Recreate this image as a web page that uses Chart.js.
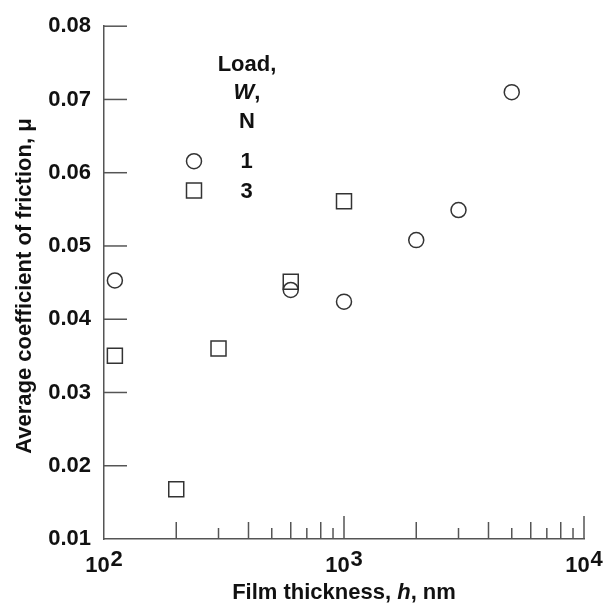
<!DOCTYPE html>
<html>
<head>
<meta charset="utf-8">
<script src="https://cdn.jsdelivr.net/npm/chart.js@4/dist/chart.umd.min.js"></script>
<style>
  html, body { margin: 0; padding: 0; background: #fff; }
  #wrap { width: 603px; height: 607px; }
</style>
</head>
<body>
<div id="wrap"><canvas id="chart" width="603" height="607"></canvas></div>
<script>
// Data
const loadLabels = ['1', '3'];
const thickness1N = [111, 600, 1000, 2000, 3000, 5000];
const friction1N = [0.0453, 0.0440, 0.0424, 0.0508, 0.0549, 0.0710];
const thickness3N = [111, 200, 300, 600, 1000];
const friction3N = [0.0350, 0.0168, 0.0360, 0.0451, 0.0561];

// Axes
const xMin = 100, xMax = 10000;
const yMin = 0.01, yMax = 0.08, yStep = 0.01;
const xDecades = [100, 1000, 10000];
const xTickValues = [];
for (let d = 100; d < xMax; d *= 10) {
    for (let m = 1; m <= 9; m++) xTickValues.push(m * d);
}
xTickValues.push(xMax);

const FAMILY = '"Liberation Sans", Arial, Helvetica, sans-serif';
const INK = '#111';
const AXIS = '#555';
const MARK = '#333';

function font(size, italic) {
    return (italic ? 'italic ' : '') + 'bold ' + size + 'px ' + FAMILY;
}

// draws runs of [text, italic] centered at cx on a baseline
function drawRuns(ctx, runs, cx, baseY, size) {
    let total = 0;
    runs.forEach(r => { ctx.font = font(size, r[1]); total += ctx.measureText(r[0]).width; });
    let x = cx - total / 2;
    ctx.textAlign = 'left';
    runs.forEach(r => {
        ctx.font = font(size, r[1]);
        ctx.fillText(r[0], x, baseY);
        x += ctx.measureText(r[0]).width;
    });
}

function drawMarker(ctx, style, r, x, y) {
    ctx.beginPath();
    if (style === 'rect') {
        const s = r * Math.SQRT1_2;
        ctx.rect(x - s, y - s, 2 * s, 2 * s);
    } else {
        ctx.arc(x, y, r, 0, Math.PI * 2);
    }
    ctx.stroke();
}

const decorations = {
    id: 'decorations',
    afterDraw(chart) {
        const { ctx, chartArea: area, scales: { x, y } } = chart;
        ctx.save();

        // inward tick marks
        ctx.strokeStyle = AXIS;
        ctx.lineWidth = 1.5;
        x.ticks.forEach(t => {
            if (t.value <= x.min) return;
            const px = x.getPixelForValue(t.value);
            const sig = Math.round(t.value / Math.pow(10, Math.floor(Math.log10(t.value) + 1e-9)));
            const len = sig === 1 ? 23 : (sig % 2 === 0 ? 17 : 11);
            ctx.beginPath();
            ctx.moveTo(px, area.bottom);
            ctx.lineTo(px, area.bottom - len);
            ctx.stroke();
        });
        y.ticks.forEach(t => {
            if (t.value <= y.min + 1e-9) return;
            const py = y.getPixelForValue(t.value);
            ctx.beginPath();
            ctx.moveTo(area.left, py);
            ctx.lineTo(area.left + 23, py);
            ctx.stroke();
        });

        ctx.fillStyle = INK;
        ctx.textBaseline = 'alphabetic';

        // x tick labels as powers of ten
        xDecades.forEach(d => {
            const px = x.getPixelForValue(d);
            const exp = String(Math.round(Math.log10(d)));
            ctx.font = font(22);
            const w1 = ctx.measureText('10').width;
            const w2 = ctx.measureText(exp).width;
            const start = px - (w1 + w2 + 1) / 2;
            ctx.textAlign = 'left';
            ctx.fillText('10', start, 572);
            ctx.fillText(exp, start + w1 + 1, 566);
        });

        // x title
        drawRuns(ctx, [['Film thickness, ', false], ['h', true], [', nm', false]],
            (area.left + area.right) / 2, 599, 22);

        // y title
        ctx.save();
        ctx.translate(31, (area.top + area.bottom) / 2 + 3.5);
        ctx.rotate(-Math.PI / 2);
        drawRuns(ctx, [['Average coefficient of friction, \u03bc', false]], 0, 0, 22);
        ctx.restore();

        // legend
        const lx = area.left + 143;
        drawRuns(ctx, [['Load,', false]], lx, area.top + 45, 22);
        drawRuns(ctx, [['W', true], [',', false]], lx, area.top + 73, 22);
        drawRuns(ctx, [['N', false]], lx, area.top + 102, 22);
        chart.data.datasets.forEach((ds, i) => {
            const ly = area.top + 135 + i * 29.3;
            ctx.strokeStyle = MARK;
            ctx.lineWidth = 1.5;
            drawMarker(ctx, ds.pointStyle, ds.pointRadius, area.left + 90, ly);
            ctx.fillStyle = INK;
            ctx.font = font(22);
            ctx.textAlign = 'center';
            ctx.textBaseline = 'middle';
            ctx.fillText(ds.label, area.left + 142.5, ly + 1);
            ctx.textBaseline = 'alphabetic';
        });

        ctx.restore();
    }
};

const ctx = document.getElementById('chart').getContext('2d');

new Chart(ctx, {
    type: 'scatter',
    data: {
        datasets: [{
            label: loadLabels[0],
            data: thickness1N.map((h, i) => ({ x: h, y: friction1N[i] })),
            pointStyle: 'circle',
            pointRadius: 7.5,
            borderColor: MARK,
            backgroundColor: 'rgba(255,255,255,0)',
            borderWidth: 1.5,
            clip: false
        }, {
            label: loadLabels[1],
            data: thickness3N.map((h, i) => ({ x: h, y: friction3N[i] })),
            pointStyle: 'rect',
            pointRadius: 10.6,
            borderColor: MARK,
            backgroundColor: 'rgba(255,255,255,0)',
            borderWidth: 1.5,
            clip: false
        }]
    },
    options: {
        responsive: false,
        animation: false,
        events: [],
        layout: { padding: { top: 16, right: 19, left: 0, bottom: 0 } },
        plugins: {
            legend: { display: false },
            tooltip: { enabled: false }
        },
        scales: {
            x: {
                type: 'logarithmic',
                min: xMin,
                max: xMax,
                afterBuildTicks: scale => { scale.ticks = xTickValues.map(v => ({ value: v })); },
                afterFit: scale => { scale.height = 68; },
                ticks: { display: false },
                grid: { display: false, drawTicks: false },
                border: { display: true, color: AXIS, width: 1.5 }
            },
            y: {
                type: 'linear',
                min: yMin,
                max: yMax,
                afterFit: scale => { scale.width = 104; },
                ticks: {
                    stepSize: yStep,
                    callback: v => v.toFixed(2),
                    font: { family: FAMILY, size: 22, weight: 'bold' },
                    color: INK,
                    padding: 13
                },
                grid: { display: false, drawTicks: false },
                border: { display: true, color: AXIS, width: 1.5 }
            }
        }
    },
    plugins: [decorations]
});
</script>
</body>
</html>
